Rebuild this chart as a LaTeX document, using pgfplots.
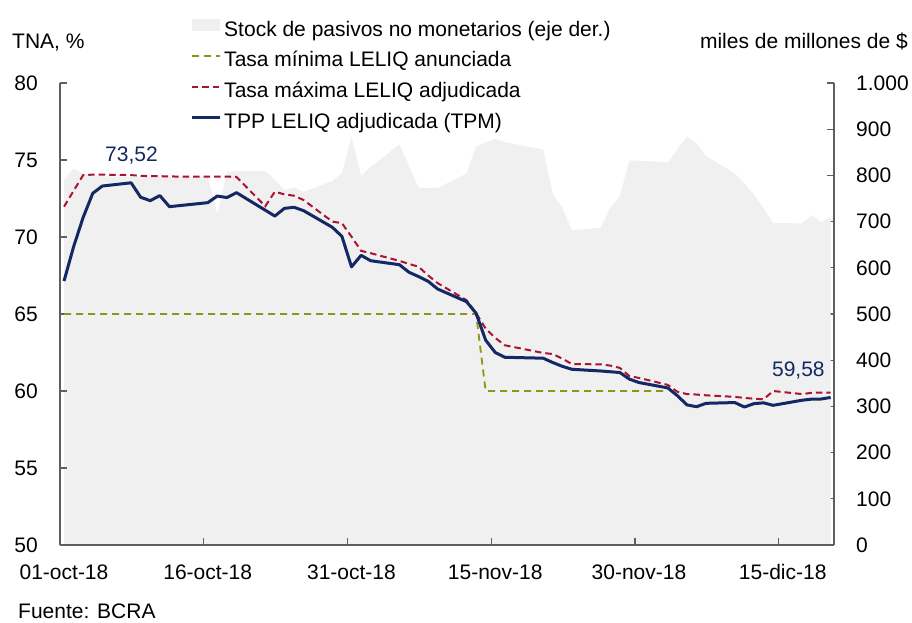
\documentclass[border=0pt]{standalone}
\usepackage{fontspec}
\setmainfont{Liberation Sans}
\usepackage{pgfplots}
\pgfplotsset{compat=1.18}
\usepackage{pgfplotstable}
\definecolor{navy}{RGB}{20,40,100}
\definecolor{maxred}{RGB}{170,20,50}
\definecolor{olivec}{RGB}{140,150,20}
\definecolor{areagray}{RGB}{240,240,240}
\definecolor{axgray}{RGB}{95,95,95}

% day = days since 01-oct-18
\pgfplotstableread{
day val
0 67.14
1 69.37
2 71.28
3 72.84
4 73.31
7 73.52
8 72.58
9 72.36
10 72.69
11 71.97
15 72.23
16 72.66
17 72.56
18 72.88
21 71.74
22 71.36
23 71.86
24 71.93
25 71.71
28 70.63
29 70.04
30 68.06
31 68.81
32 68.46
35 68.20
36 67.71
37 67.43
38 67.12
39 66.62
42 65.80
43 65.05
44 63.30
45 62.50
46 62.19
50 62.13
51 61.85
52 61.60
53 61.41
56 61.30
57 61.25
58 61.20
59 60.77
60 60.55
63 60.20
64 59.70
65 59.10
66 58.98
67 59.20
70 59.25
71 58.96
72 59.18
73 59.23
74 59.07
77 59.40
78 59.47
79 59.48
80 59.58
}\tpp

\pgfplotstableread{
day val
0 71.97
1 73.00
2 74.02
3 74.05
4 74.05
7 74.02
8 73.97
9 73.95
10 73.95
11 73.93
15 73.92
16 73.92
17 73.92
18 73.90
21 72.00
22 72.94
23 72.77
24 72.68
25 72.40
28 71.00
29 70.90
30 70.02
31 69.10
32 68.95
35 68.45
36 68.25
37 68.07
38 67.50
39 67.00
42 65.90
43 65.05
44 64.05
45 63.45
46 62.97
50 62.47
51 62.40
52 62.10
53 61.75
56 61.73
57 61.65
58 61.50
59 60.97
60 60.85
63 60.40
64 59.95
65 59.80
66 59.77
67 59.72
70 59.62
71 59.55
72 59.50
73 59.46
74 60.00
77 59.80
78 59.88
79 59.90
80 59.90
}\tmax

\pgfplotstableread{
day val
0 65
43 65
44 60
63 60
}\tmin

\pgfplotstableread{
day val
0 790
1 815
2 804
3 800
4 798
7 797
8 797
9 797
10 797
11 797
15 796
16 717
17 807
18 809
21 809
22 791
23 769
24 774
25 764
28 788
29 805
30 883
31 799
32 818
35 867
36 820
37 773
38 773
39 773
42 804
43 863
44 871
45 879
46 872
50 856
51 760
52 730
53 681
56 687
57 730
58 755
59 832
60 832
63 828
64 856
65 884
66 870
67 842
70 804
71 782
72 759
73 728
74 697
77 696
78 714
79 699
80 709
}\stock

\begin{document}
\fontsize{21}{25}\selectfont
\begin{tikzpicture}
\useasboundingbox (0,0) rectangle (912pt,622pt);
\pgfplotsset{
  common/.style={
    at={(60pt,77pt)}, anchor=south west, scale only axis,
    width=774pt, height=462pt,
    xmin=-0.42, xmax=80.35,
    tick align=inside, major tick length=7pt,
    tick style={axgray, line width=1.2pt},
    axis line style={axgray, line width=1.2pt, -},
    every tick label/.append style={font=\fontsize{21}{25}\selectfont, inner sep=0pt},
    /pgf/number format/assume math mode=true,
  }
}
% right axis: stock (area)
\begin{axis}[common,
  ymin=0, ymax=1000,
  axis x line=none, axis y line*=right,
  ytick={0,100,...,1000},
  yticklabels={0,100,200,300,400,500,600,700,800,900,1.000},
  yticklabel style={anchor=west, xshift=22pt},
]
\addplot[fill=areagray, draw=none] table[x=day,y=val]{\stock} \closedcycle;
\end{axis}
% left axis: rates
\begin{axis}[common,
  ymin=50, ymax=80,
  axis x line*=bottom, axis y line*=left,
  ytick={50,55,...,80},
  yticklabel style={anchor=east, xshift=-22pt},
  xtick={-0.42,14.58,29.58,44.58,59.58,74.58},
  xticklabels={01-oct-18,16-oct-18,31-oct-18,15-nov-18,30-nov-18,15-dic-18},
  xticklabel style={anchor=north, text height=15pt, xshift=4pt, yshift=-19pt},
  legend image code/.code={\draw[#1] (0pt,6pt) -- (28pt,6pt);},
  legend cell align=left,
  legend style={at={(0.168,1.14)}, anchor=north west, draw=none, fill=none,
    inner sep=0pt, row sep=10.6pt, column sep=3pt,
    font=\fontsize{21}{25}\selectfont,
    nodes={inner sep=0pt, text height=15pt, text depth=5pt}},
]
\addlegendimage{legend image code/.code={\fill[areagray] (0pt,1pt) rectangle (27pt,12.6pt);}}
\addlegendentry{Stock de pasivos no monetarios (eje der.)}
\addplot[olivec, line width=1.8pt, dash pattern=on 7pt off 5pt] table[x=day,y=val]{\tmin};
\addlegendentry{Tasa mínima LELIQ anunciada}
\addplot[maxred, line width=2pt, dash pattern=on 6.5pt off 4pt] table[x=day,y=val]{\tmax};
\addlegendentry{Tasa máxima LELIQ adjudicada}
\addplot[navy, line width=3pt, line join=round] table[x=day,y=val]{\tpp};
\addlegendentry{TPP LELIQ adjudicada (TPM)}
\node[navy, anchor=base, inner sep=0pt, font=\fontsize{21}{25}\selectfont] at (axis cs:7.04,74.89) {73,52};
\node[navy, anchor=base, inner sep=0pt, font=\fontsize{21}{25}\selectfont] at (axis cs:76.63,60.93) {59,58};
\end{axis}
\node[anchor=base west, inner sep=0pt] at (12pt,573.7pt) {TNA, \%};
\node[anchor=base east, inner sep=0pt] at (908pt,573pt) {miles de millones de \$};
\node[anchor=base west, inner sep=0pt] at (18pt,4pt) {Fuente: BCRA};
\end{tikzpicture}
\end{document}
